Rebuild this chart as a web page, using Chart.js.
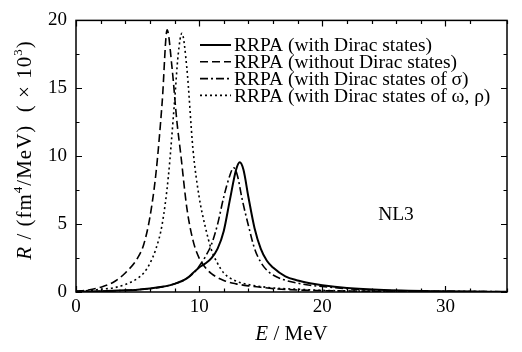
<!DOCTYPE html>
<html>
<head>
<meta charset="utf-8">
<script src="https://cdn.jsdelivr.net/npm/chart.js@4/dist/chart.umd.min.js"></script>
<style>
html,body{margin:0;padding:0;background:#fff;}
canvas{display:block;}
</style>
</head>
<body>
<canvas id="c" width="522" height="352"></canvas>
<script>
// ---- Data ----
const seriesLabels = [
  "RRPA (with Dirac states)",
  "RRPA (without Dirac states)",
  "RRPA (with Dirac states of \u03c3)",
  "RRPA (with Dirac states of \u03c9, \u03c1)"
];
// with Dirac states (solid)
const withDiracE = [0, 2, 4, 5, 6, 7, 8, 9, 9.5, 10, 10.5, 11, 11.5, 12, 12.5, 13, 13.3, 13.6, 14, 14.5, 15, 15.5, 16, 17, 18, 19, 20, 22, 25, 30, 35];
const withDiracR = [0.02, 0.05, 0.12, 0.17, 0.25, 0.38, 0.6, 1.0, 1.4, 1.8, 2.1, 2.5, 3.2, 4.5, 6.8, 9.0, 9.55, 9.0, 7.0, 4.7, 3.2, 2.3, 1.8, 1.15, 0.85, 0.65, 0.5, 0.3, 0.15, 0.05, 0.02];
// without Dirac states (dashed)
const noDiracE = [0, 1, 2, 3, 4, 5, 5.5, 6, 6.5, 7, 7.4, 7.8, 8.2, 8.5, 9, 9.5, 10, 10.5, 11, 12, 13, 14, 15, 16, 18, 20, 25, 35];
const noDiracR = [0.05, 0.15, 0.35, 0.7, 1.4, 2.5, 3.5, 5.5, 8.8, 14, 19.3, 16.5, 12.5, 10.2, 6.2, 3.8, 2.5, 1.8, 1.35, 0.85, 0.6, 0.45, 0.35, 0.25, 0.15, 0.1, 0.05, 0.02];
// with Dirac states of sigma (dash-dot)
const sigmaE = [0, 2, 4, 5, 6, 7, 8, 9, 9.5, 10, 10.5, 11, 11.5, 12, 12.5, 12.8, 13.1, 13.5, 14, 14.5, 15, 15.5, 16, 17, 18, 19, 20, 22, 25, 30, 35];
const sigmaR = [0.02, 0.05, 0.12, 0.17, 0.25, 0.38, 0.6, 1.0, 1.35, 1.9, 2.6, 3.5, 5.0, 7.0, 8.6, 9.15, 8.6, 6.8, 4.9, 3.2, 2.2, 1.6, 1.25, 0.87, 0.65, 0.5, 0.4, 0.25, 0.12, 0.05, 0.02];
// with Dirac states of omega, rho (dotted)
const omegaRhoE = [0, 1, 2, 3, 4, 5, 5.5, 6, 6.5, 7, 7.5, 8, 8.3, 8.6, 9, 9.5, 10, 10.5, 11, 11.5, 12, 13, 14, 15, 16, 18, 20, 25, 35];
const omegaRhoR = [0.05, 0.1, 0.2, 0.3, 0.55, 1.0, 1.4, 2.1, 3.2, 5.0, 8.5, 14, 17.5, 19.05, 16.5, 10.5, 7.0, 4.8, 3.1, 2.1, 1.4, 0.8, 0.55, 0.4, 0.3, 0.2, 0.12, 0.05, 0.02];

const xMajorTicks = [0, 10, 20, 30];
const yMajorTicks = [0, 5, 10, 15, 20];
const panelLabel = "NL3";

// ---- build ----
function pts(xs, ys){ return xs.map((x,i)=>({x:x, y:ys[i]})); }
const SERIF = "'Liberation Serif', 'DejaVu Serif', serif";
const dashes = [[], [8,4], [8,3,2,3], [2,3]];
const dataSets = [
  pts(withDiracE, withDiracR),
  pts(noDiracE, noDiracR),
  pts(sigmaE, sigmaR),
  pts(omegaRhoE, omegaRhoR)
];

const decorPlugin = {
  id: 'decor',
  afterDraw(chart){
    const ctx = chart.ctx, a = chart.chartArea;
    const xs = chart.scales.x, ys = chart.scales.y;
    ctx.save();
    // frame
    ctx.strokeStyle = '#000'; ctx.lineWidth = 1.5; ctx.setLineDash([]);
    ctx.strokeRect(a.left, a.top, a.right - a.left, a.bottom - a.top);
    // ticks (inward, mirrored)
    ctx.lineWidth = 1.2;
    xs.ticks.forEach(t => {
      const px = Math.round(xs.getPixelForValue(t.value)) + 0.5;
      const L = xMajorTicks.includes(t.value) ? 6 : 3.5;
      ctx.beginPath();
      ctx.moveTo(px, a.bottom); ctx.lineTo(px, a.bottom - L);
      ctx.moveTo(px, a.top); ctx.lineTo(px, a.top + L);
      ctx.stroke();
    });
    ys.ticks.forEach(t => {
      const py = Math.round(ys.getPixelForValue(t.value)) + 0.5;
      const L = yMajorTicks.includes(t.value) ? 6 : 3.5;
      ctx.beginPath();
      ctx.moveTo(a.left, py); ctx.lineTo(a.left + L, py);
      ctx.moveTo(a.right, py); ctx.lineTo(a.right - L, py);
      ctx.stroke();
    });
    // legend
    ctx.fillStyle = '#000';
    ctx.font = '19.5px ' + SERIF;
    ctx.textBaseline = 'middle';
    ctx.textAlign = 'left';
    chart.data.datasets.forEach((ds, i) => {
      const y = 45 + i * 16.8;
      ctx.strokeStyle = '#000';
      ctx.lineWidth = ds.borderWidth;
      ctx.setLineDash(ds.borderDash || []);
      ctx.beginPath(); ctx.moveTo(200, y); ctx.lineTo(231, y); ctx.stroke();
      ctx.setLineDash([]);
      ctx.fillText(ds.label, 234, y + 1);
    });
    // panel label
    ctx.textAlign = 'center';
    ctx.font = '19.5px ' + SERIF;
    ctx.fillText(panelLabel, 396, 215);
    // x title
    drawRich(ctx, [
      {t:'E', f:'italic 21px ' + SERIF},
      {t:' / MeV', f:'21px ' + SERIF}
    ], (a.left + a.right) / 2, 334);
    // y title
    ctx.save();
    ctx.translate(25, 150);
    ctx.rotate(-Math.PI / 2);
    if ('letterSpacing' in ctx) ctx.letterSpacing = '1px';
    drawRich(ctx, [
      {t:'R', f:'italic 21px ' + SERIF},
      {t:' / (fm', f:'21px ' + SERIF},
      {t:'4', f:'13px ' + SERIF, dy:-6},
      {t:'/MeV)  ( \u00d7 10', f:'21px ' + SERIF},
      {t:'3', f:'13px ' + SERIF, dy:-6},
      {t:')', f:'21px ' + SERIF}
    ], 0, 0);
    ctx.restore();
    ctx.restore();
  }
};
function drawRich(ctx, parts, cx, cy){
  let w = 0;
  parts.forEach(p => { ctx.font = p.f; p.w = ctx.measureText(p.t).width; w += p.w; });
  let x = cx - w / 2;
  ctx.textAlign = 'left'; ctx.textBaseline = 'middle'; ctx.fillStyle = '#000';
  parts.forEach(p => { ctx.font = p.f; ctx.fillText(p.t, x, cy + (p.dy || 0)); x += p.w; });
}

new Chart(document.getElementById('c'), {
  type: 'line',
  data: {
    datasets: dataSets.map((d, i) => ({
      label: seriesLabels[i],
      data: d,
      borderColor: '#000',
      borderWidth: i === 0 ? 2 : 1.6,
      borderDash: dashes[i],
      pointRadius: 0,
      fill: false,
      cubicInterpolationMode: 'monotone'
    }))
  },
  options: {
    responsive: false,
    animation: false,
    devicePixelRatio: 1,
    layout: { padding: { top: 15, right: 15, left: 0, bottom: 0 } },
    plugins: { legend: { display: false }, tooltip: { enabled: false } },
    scales: {
      x: {
        type: 'linear', min: 0, max: 35,
        grid: { display: false, drawTicks: false },
        border: { display: false },
        ticks: {
          stepSize: 2, autoSkip: false, maxRotation: 0, padding: 4,
          color: '#000', font: { family: SERIF, size: 19 },
          callback: v => xMajorTicks.includes(v) ? String(v) : ''
        },
        afterFit: s => { s.height = 60; }
      },
      y: {
        min: 0, max: 20,
        grid: { display: false, drawTicks: false },
        border: { display: false },
        ticks: {
          stepSize: 2.5, autoSkip: false, padding: 9,
          color: '#000', font: { family: SERIF, size: 19 },
          callback: v => yMajorTicks.includes(v) ? String(v) : ''
        },
        afterFit: s => { s.width = 76; }
      }
    }
  },
  plugins: [decorPlugin]
});
</script>
</body>
</html>
